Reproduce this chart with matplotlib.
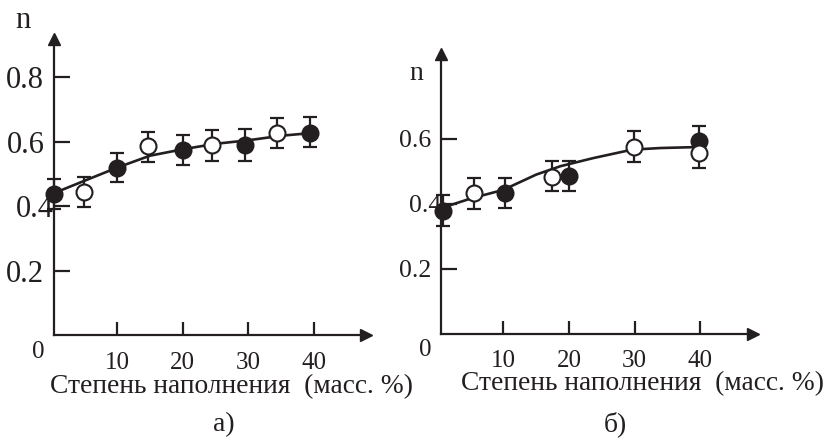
import matplotlib
matplotlib.use("Agg")
import matplotlib.pyplot as plt
import matplotlib.transforms as mtransforms
import numpy as np

INK = "#231f20"
plt.rcParams["font.family"] = ["Liberation Serif", "DejaVu Serif"]

# panel a) -- filled and open points with error bars
a_fill_x = [0.4, 10, 20, 29.5, 39.4]
a_fill_y = [0.438, 0.518, 0.573, 0.588, 0.628]
a_fill_lo = [0.391, 0.473, 0.527, 0.541, 0.582]
a_fill_hi = [0.484, 0.564, 0.620, 0.638, 0.675]
a_open_x = [5.0, 14.7, 24.5, 34.3]
a_open_y = [0.443, 0.585, 0.588, 0.627]
a_open_lo = [0.397, 0.537, 0.539, 0.580]
a_open_hi = [0.490, 0.629, 0.636, 0.673]
a_curve_x = [0.4, 5, 10, 15, 20, 25, 30, 35, 39.4]
a_curve_y = [0.440, 0.478, 0.519, 0.556, 0.576, 0.593, 0.604, 0.618, 0.626]

# panel б)
b_fill_x = [0.8, 10.3, 20.0, 39.8]
b_fill_y = [0.378, 0.433, 0.486, 0.593]
b_fill_lo = [0.332, 0.387, 0.438, 0.546]
b_fill_hi = [0.428, 0.481, 0.533, 0.641]
b_open_x = [5.5, 17.4, 29.9, 39.8]
b_open_y = [0.433, 0.484, 0.576, 0.557]
b_open_lo = [0.384, 0.438, 0.530, 0.511]
b_open_hi = [0.479, 0.532, 0.625, 0.604]
b_curve_x = [0.6, 5, 10, 15, 18.7, 23.7, 29.6, 33.9, 39.5]
b_curve_y = [0.387, 0.416, 0.443, 0.490, 0.516, 0.541, 0.567, 0.572, 0.575]

x_ticks = [10, 20, 30, 40]
a_y_ticks = [0.2, 0.4, 0.6, 0.8]
b_y_ticks = [0.2, 0.4, 0.6]
x_label = "Степень наполнения  (масс. %)"

W, H = 832, 438
fig = plt.figure(figsize=(W / 100, H / 100), dpi=100)


def px_axes(left, right, top, bottom):
    return fig.add_axes([left / W, 1 - bottom / H, (right - left) / W, (bottom - top) / H])


def draw_points(ax, x, y, lo, hi, face):
    y = np.array(y)
    err = [y - np.array(lo), np.array(hi) - y]
    ax.errorbar(x, y, yerr=err, fmt="none", ecolor=INK, elinewidth=1.6,
                capsize=5, capthick=1.6, zorder=3, clip_on=False)
    ax.plot(x, y, "o", ms=11.5, mfc=face, mec=INK, mew=1.5, zorder=4, clip_on=False)


def style_axes(ax, ytick_size, yticks):
    for side in ("top", "right"):
        ax.spines[side].set_visible(False)
    for side in ("left", "bottom"):
        ax.spines[side].set_linewidth(1.6)
        ax.spines[side].set_color(INK)
    ax.set_xticks(x_ticks)
    ax.set_xticklabels([str(t) for t in x_ticks], fontsize=18, color=INK)
    ax.set_yticks(yticks)
    ax.set_yticklabels([f"{t:.1f}" for t in yticks], fontsize=ytick_size, color=INK)
    ax.tick_params(axis="x", direction="in", length=9.5, width=1.6, color=INK, pad=12)
    ax.tick_params(axis="y", direction="in", length=11.5, width=1.6, color=INK, pad=7)
    # arrow heads on the axes
    ax.plot(1, 0, ">", ms=9, color=INK, transform=ax.transAxes, clip_on=False)
    ax.plot(0, 1, "^", ms=9, color=INK, transform=ax.transAxes, clip_on=False)
    # the 0.4 label sits against the axis in the original
    shift = mtransforms.ScaledTranslation(7 / 72, 0, fig.dpi_scale_trans)
    for lab, t in zip(ax.get_yticklabels(), yticks):
        if abs(t - 0.4) < 1e-9:
            lab.set_transform(lab.get_transform() + shift)


# --- panel a
ax1 = px_axes(54, 366, 39, 335)
ax1.set_xlim(0.4, 47.9)
ax1.set_ylim(0, 0.918)
ax1.plot(a_curve_x, a_curve_y, color=INK, lw=1.9, zorder=2)
draw_points(ax1, a_fill_x, a_fill_y, a_fill_lo, a_fill_hi, INK)
draw_points(ax1, a_open_x, a_open_y, a_open_lo, a_open_hi, "white")
style_axes(ax1, 22, a_y_ticks)

# --- panel б
ax2 = px_axes(441, 753, 54, 333.5)
ax2.set_xlim(0.52, 48.0)
ax2.set_ylim(0, 0.862)
ax2.plot(b_curve_x, b_curve_y, color=INK, lw=1.9, zorder=2)
draw_points(ax2, b_fill_x, b_fill_y, b_fill_lo, b_fill_hi, INK)
draw_points(ax2, b_open_x, b_open_y, b_open_lo, b_open_hi, "white")
style_axes(ax2, 18.5, b_y_ticks)

# free text: axis names, origin zeros, panel letters
fig.text(22.5 / W, 1 - 21 / H, "n", fontsize=22, color=INK, ha="center", va="center")
fig.text(416.7 / W, 1 - 73 / H, "n", fontsize=20, color=INK, ha="center", va="center")
fig.text(38 / W, 1 - 352 / H, "0", fontsize=18, color=INK, ha="center", va="center")
fig.text(425 / W, 1 - 350 / H, "0", fontsize=18, color=INK, ha="center", va="center")
fig.text(232 / W, 1 - 387 / H, x_label, fontsize=19.8, color=INK, ha="center", va="center")
fig.text(642.5 / W, 1 - 384 / H, x_label, fontsize=19.8, color=INK, ha="center", va="center")
fig.text(224 / W, 1 - 431 / H, "а)", fontsize=20, color=INK, ha="center", va="baseline")
fig.text(615 / W, 1 - 431 / H, "б)", fontsize=20, color=INK, ha="center", va="baseline")

fig.savefig("out.png", dpi=100)
